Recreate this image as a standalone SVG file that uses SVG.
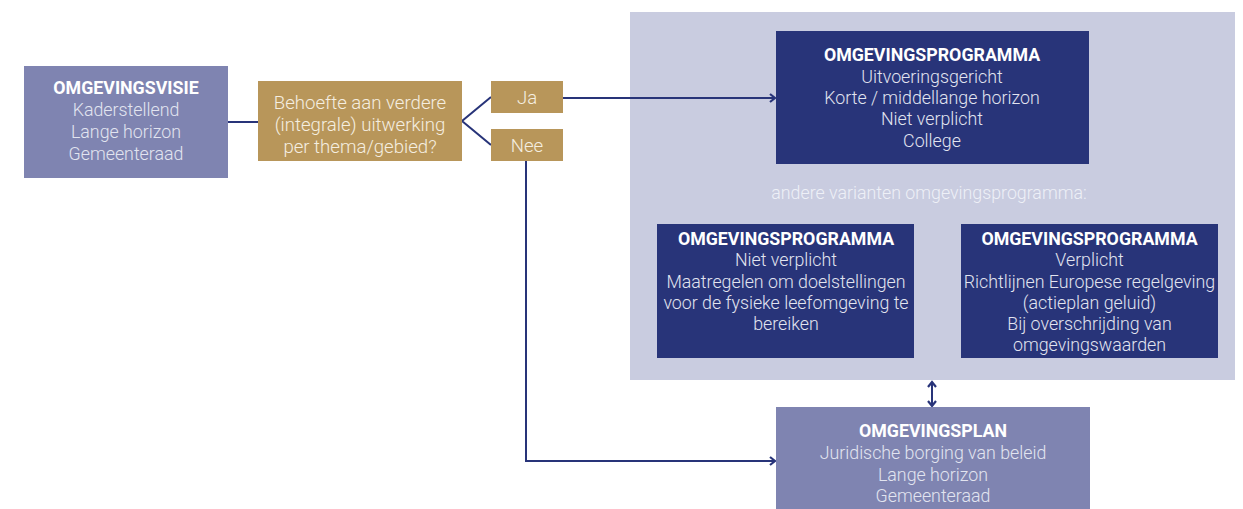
<svg xmlns="http://www.w3.org/2000/svg" width="1243" height="509" viewBox="0 0 1243 509">
<style>
.t{font-family:Roboto,"Liberation Sans",sans-serif;font-size:17.8px;text-anchor:middle}
.b{font-weight:700;fill:#ffffff}
.l{font-weight:300;fill:#e2e4f0}
.q{font-weight:300;fill:#f5eee0;font-size:18.6px}
.c{fill:none;stroke:#283479;stroke-width:2}
</style>
<defs>
<marker id="ah" markerWidth="10" markerHeight="10" refX="8" refY="5" orient="auto" markerUnits="userSpaceOnUse">
<path d="M3,1 L8,5 L3,9" fill="none" stroke="#283479" stroke-width="2.2"/>
</marker>
<marker id="as" markerWidth="10" markerHeight="10" refX="8" refY="5" orient="auto-start-reverse" markerUnits="userSpaceOnUse">
<path d="M3,1 L8,5 L3,9" fill="none" stroke="#283479" stroke-width="2.2"/>
</marker>
</defs>
<rect width="1243" height="509" fill="#ffffff"/>
<g id="panel">
<rect x="630" y="12" width="605" height="368" fill="#c9cce0"/>
<text class="t" x="929" y="199" style="font-weight:300;fill:#eef0f7">andere varianten omgevingsprogramma:</text>
</g>
<g id="connectors">
<line class="c" x1="228" y1="122" x2="258" y2="122"/>
<polyline class="c" points="491,97 462,121 491,145"/>
<line class="c" x1="563" y1="98" x2="775" y2="98" marker-end="url(#ah)"/>
<polyline class="c" points="526,161 526,461 775,461" marker-end="url(#ah)"/>
<line class="c" x1="932" y1="382" x2="932" y2="406" stroke-width="2.4" marker-start="url(#as)" marker-end="url(#as)"/>
</g>
<g id="omgevingsvisie">
<rect x="24" y="66" width="204" height="112" fill="#7f84b1"/>
<text class="t b" x="126" y="94">OMGEVINGSVISIE</text>
<text class="t l" x="126" y="116">Kaderstellend</text>
<text class="t l" x="126" y="138">Lange horizon</text>
<text class="t l" x="126" y="160">Gemeenteraad</text>
</g>
<g id="vraag">
<rect x="258" y="81" width="204" height="80" fill="#b8965a"/>
<text class="t q" x="360" y="109">Behoefte aan verdere</text>
<text class="t q" x="360" y="131">(integrale) uitwerking</text>
<text class="t q" x="360" y="153">per thema/gebied?</text>
</g>
<g id="ja">
<rect x="491" y="81" width="72" height="32" fill="#b8965a"/>
<text class="t q" x="527" y="104">Ja</text>
</g>
<g id="nee">
<rect x="491" y="129" width="72" height="32" fill="#b8965a"/>
<text class="t q" x="527" y="152">Nee</text>
</g>
<g id="programma-hoofd">
<rect x="776" y="31" width="313" height="133" fill="#283479"/>
<text class="t b" x="932" y="61">OMGEVINGSPROGRAMMA</text>
<text class="t l" x="932" y="83">Uitvoeringsgericht</text>
<text class="t l" x="932" y="104">Korte / middellange horizon</text>
<text class="t l" x="932" y="125">Niet verplicht</text>
<text class="t l" x="932" y="147">College</text>
</g>
<g id="programma-niet-verplicht">
<rect x="657" y="224" width="257" height="134" fill="#283479"/>
<text class="t b" x="786" y="245">OMGEVINGSPROGRAMMA</text>
<text class="t l" x="786" y="266">Niet verplicht</text>
<text class="t l" x="786" y="288">Maatregelen om doelstellingen</text>
<text class="t l" x="786" y="309">voor de fysieke leefomgeving te</text>
<text class="t l" x="786" y="330">bereiken</text>
</g>
<g id="programma-verplicht">
<rect x="961" y="224" width="257" height="134" fill="#283479"/>
<text class="t b" x="1089.5" y="245">OMGEVINGSPROGRAMMA</text>
<text class="t l" x="1089.5" y="266">Verplicht</text>
<text class="t l" x="1089.5" y="288">Richtlijnen Europese regelgeving</text>
<text class="t l" x="1089.5" y="309">(actieplan geluid)</text>
<text class="t l" x="1089.5" y="330">Bij overschrijding van</text>
<text class="t l" x="1089.5" y="351">omgevingswaarden</text>
</g>
<g id="omgevingsplan">
<rect x="776" y="407" width="314" height="102" fill="#7f84b1"/>
<text class="t b" x="933" y="437">OMGEVINGSPLAN</text>
<text class="t l" x="933" y="459">Juridische borging van beleid</text>
<text class="t l" x="933" y="481">Lange horizon</text>
<text class="t l" x="933" y="502">Gemeenteraad</text>
</g>
</svg>
